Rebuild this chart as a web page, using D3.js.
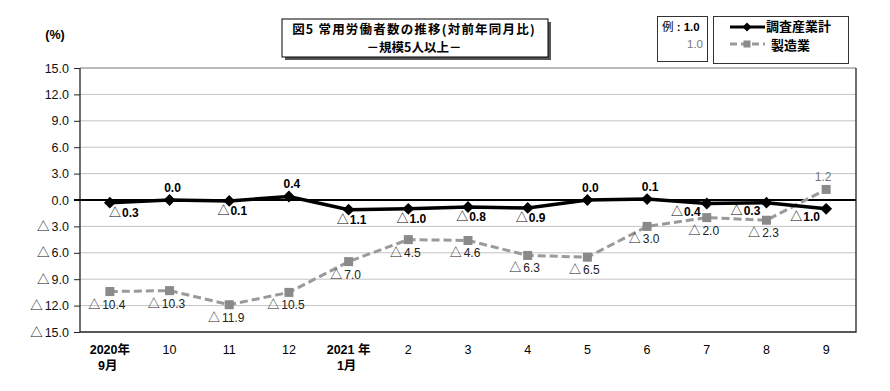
<!DOCTYPE html>
<html>
<head>
<meta charset="utf-8">
<script src="https://cdn.jsdelivr.net/npm/d3@7"></script>
<style>
  body { margin: 0; background: #fff; }
  text { font-family: "Liberation Sans", Arial, "Noto Sans CJK JP", sans-serif; }
</style>
</head>
<body>
<svg id="chart" width="890" height="391"></svg>
<script>
// ---- data ----
const months = ['2020年|9月', '10', '11', '12', '2021 年|1月', '2', '3', '4', '5', '6', '7', '8', '9'];
const allIndustries = [-0.3, 0.0, -0.1, 0.4, -1.1, -1.0, -0.8, -0.9, 0.0, 0.1, -0.4, -0.3, -1.0];
const manufacturing = [-10.4, -10.3, -11.9, -10.5, -7.0, -4.5, -4.6, -6.3, -6.5, -3.0, -2.0, -2.3, 1.2];
const yTicks = [15, 12, 9, 6, 3, 0, -3, -6, -9, -12, -15];

const svg = d3.select('#chart');
const margin = { top: 68, left: 80, right: 34, bottom: 59 };
const width = 890 - margin.left - margin.right,
  height = 391 - margin.top - margin.bottom;
const jp = '"Noto Sans CJK JP", sans-serif';

const g = svg.append('g').attr('transform', `translate(${margin.left},${margin.top})`);

const x = d3.scaleBand().domain(d3.range(months.length)).range([0, width]);
const y = d3.scaleLinear().domain([-15, 15]).range([height, 0]);
const cx = (i) => x(i) + x.bandwidth() / 2;

// Japanese style negatives: △ + absolute value
function setValue(textSel, v, gap) {
  textSel.text(null);
  if (v < 0) {
    textSel.append('tspan').style('font-family', jp).style('font-weight', 'normal').text('△');
    textSel.append('tspan').attr('dx', gap).text(Math.abs(v).toFixed(1));
  } else {
    textSel.append('tspan').text(v.toFixed(1));
  }
}

// gridlines
g.append('g')
  .selectAll('line')
  .data(yTicks.filter((t) => t !== 0 && t !== -15))
  .enter()
  .append('line')
  .attr('x1', 0).attr('x2', width)
  .attr('y1', (d) => y(d)).attr('y2', (d) => y(d))
  .attr('stroke', (d) => (d === 15 ? '#777' : '#c4c4c4'))
  .attr('stroke-width', 1);

// frame: left, right, bottom
g.append('path')
  .attr('d', `M0,0V${height}H${width}V0`)
  .attr('fill', 'none')
  .attr('stroke', '#222')
  .attr('stroke-width', 1.3);

// y axis
const yAxis = g.append('g')
  .call(d3.axisLeft(y).tickValues(yTicks).tickSize(6));
yAxis.select('.domain').remove();
yAxis.selectAll('line').attr('stroke', '#222');
yAxis.selectAll('text')
  .attr('x', -11)
  .style('font-size', '12.5px')
  .style('font-family', 'Arial, "Liberation Sans", sans-serif')
  .attr('fill', '#111')
  .each(function (d) { setValue(d3.select(this), d, 2); });

// zero line
g.append('line')
  .attr('x1', -6).attr('x2', width)
  .attr('y1', y(0)).attr('y2', y(0))
  .attr('stroke', '#000')
  .attr('stroke-width', 2);

// (%)
svg.append('text')
  .attr('x', 55).attr('y', 39)
  .attr('text-anchor', 'middle')
  .style('font-size', '12.5px')
  .style('font-weight', 'bold')
  .text('(%)');

// x labels
const xl = g.append('g').attr('transform', `translate(0,${height})`);
months.forEach((m, i) => {
  const parts = m.split('|');
  parts.forEach((p, j) => {
    xl.append('text')
      .attr('x', cx(i) + (j === 1 ? -2 : 0))
      .attr('y', 22 + j * 16)
      .attr('text-anchor', 'middle')
      .style('font-size', '12.5px')
      .style('font-family', 'Arial, "Noto Sans CJK JP", sans-serif')
      .style('font-weight', parts.length > 1 ? 'bold' : 'normal')
      .attr('fill', '#000')
      .text(p);
  });
});

// manufacturing line (gray dashed)
const line = d3.line().x((d, i) => cx(i)).y((d) => y(d));

g.append('path')
  .datum(manufacturing)
  .attr('d', line)
  .attr('fill', 'none')
  .attr('stroke', '#9a9a9a')
  .attr('stroke-width', 3)
  .attr('stroke-dasharray', '8,4');

g.append('g')
  .selectAll('rect')
  .data(manufacturing)
  .enter()
  .append('rect')
  .attr('x', (d, i) => cx(i) - 4.5)
  .attr('y', (d) => y(d) - 4.5)
  .attr('width', 9).attr('height', 9)
  .attr('fill', '#8a8a8a');

// all industries line (black)
g.append('path')
  .datum(allIndustries)
  .attr('d', line)
  .attr('fill', 'none')
  .attr('stroke', '#000')
  .attr('stroke-width', 3.5);

const diamond = d3.symbol().type(d3.symbolSquare).size(70);
g.append('g')
  .selectAll('path')
  .data(allIndustries)
  .enter()
  .append('path')
  .attr('d', diamond)
  .attr('transform', (d, i) => `translate(${cx(i)},${y(d)}) rotate(45)`)
  .attr('fill', '#000');

// labels: all industries (bold)
g.append('g')
  .selectAll('text')
  .data(allIndustries)
  .enter()
  .append('text')
  .attr('x', (d, i) => (i === 0 ? cx(i) + 14 : i >= 10 ? cx(i) - 21 : cx(i) + 3))
  .attr('y', (d, i) => (d >= 0 ? y(d) - 8 : y(d) + (i >= 10 ? 12 : 14)))
  .attr('text-anchor', 'middle')
  .style('font-weight', 'bold')
  .style('font-size', '12px')
  .attr('fill', '#000')
  .each(function (d) { setValue(d3.select(this), d, 1); });

// labels: manufacturing (regular)
g.append('g')
  .selectAll('text')
  .data(manufacturing)
  .enter()
  .append('text')
  .attr('x', (d, i) => cx(i) - 3)
  .attr('y', (d) => (d >= 0 ? y(d) - 8 : y(d) + 17))
  .attr('text-anchor', 'middle')
  .style('font-size', '12px')
  .attr('fill', (d) => (d >= 0 ? '#777' : '#222'))
  .each(function (d) { setValue(d3.select(this), d, 2); });

// title box with shadow
svg.append('rect')
  .attr('x', 285).attr('y', 22).attr('width', 266).attr('height', 38)
  .attr('fill', '#555');
svg.append('rect')
  .attr('x', 282).attr('y', 19).attr('width', 266).attr('height', 38)
  .attr('fill', '#fff').attr('stroke', '#000').attr('stroke-width', 1);
svg.append('text')
  .attr('x', 414).attr('y', 34)
  .attr('text-anchor', 'middle')
  .style('font-family', jp)
  .style('font-weight', 'bold')
  .style('font-size', '12.5px')
  .style('letter-spacing', '1.2px')
  .text('図5  常用労働者数の推移(対前年同月比)');
svg.append('text')
  .attr('x', 414).attr('y', 52.3)
  .attr('text-anchor', 'middle')
  .style('font-family', jp)
  .style('font-weight', 'bold')
  .style('font-size', '12.5px')
  .text('－規模5人以上－');

// small example box
svg.append('rect')
  .attr('x', 657.5).attr('y', 16.5).attr('width', 50).attr('height', 45)
  .attr('fill', '#fff').attr('stroke', '#333');
const ex = svg.append('text')
  .attr('x', 662).attr('y', 31)
  .style('font-size', '11.5px');
ex.append('tspan').style('font-family', jp).text('例');
ex.append('tspan').style('font-weight', 'bold').text(' : 1.0');
svg.append('text')
  .attr('x', 703).attr('y', 48)
  .attr('text-anchor', 'end')
  .style('font-size', '11.5px')
  .attr('fill', '#777')
  .text('1.0');

// legend box
svg.append('rect')
  .attr('x', 713.5).attr('y', 16.5).attr('width', 135).attr('height', 47)
  .attr('fill', '#fff').attr('stroke', '#333');
const lg = svg.append('g');
lg.append('line')
  .attr('x1', 730).attr('x2', 765).attr('y1', 27).attr('y2', 27)
  .attr('stroke', '#000').attr('stroke-width', 3);
lg.append('path')
  .attr('d', d3.symbol().type(d3.symbolSquare).size(40))
  .attr('transform', 'translate(747,27) rotate(45)');
lg.append('line')
  .attr('x1', 730).attr('x2', 765).attr('y1', 44).attr('y2', 44)
  .attr('stroke', '#9a9a9a').attr('stroke-width', 3).attr('stroke-dasharray', '7,4');
lg.append('rect')
  .attr('x', 743.5).attr('y', 40.5).attr('width', 7).attr('height', 7)
  .attr('fill', '#8a8a8a');
lg.append('text')
  .attr('x', 766).attr('y', 31)
  .style('font-family', jp)
  .style('font-weight', 'bold')
  .style('font-size', '13px')
  .text('調査産業計');
lg.append('text')
  .attr('x', 771).attr('y', 50)
  .style('font-family', jp)
  .style('font-weight', 'bold')
  .style('font-size', '13px')
  .text('製造業');
</script>
</body>
</html>
